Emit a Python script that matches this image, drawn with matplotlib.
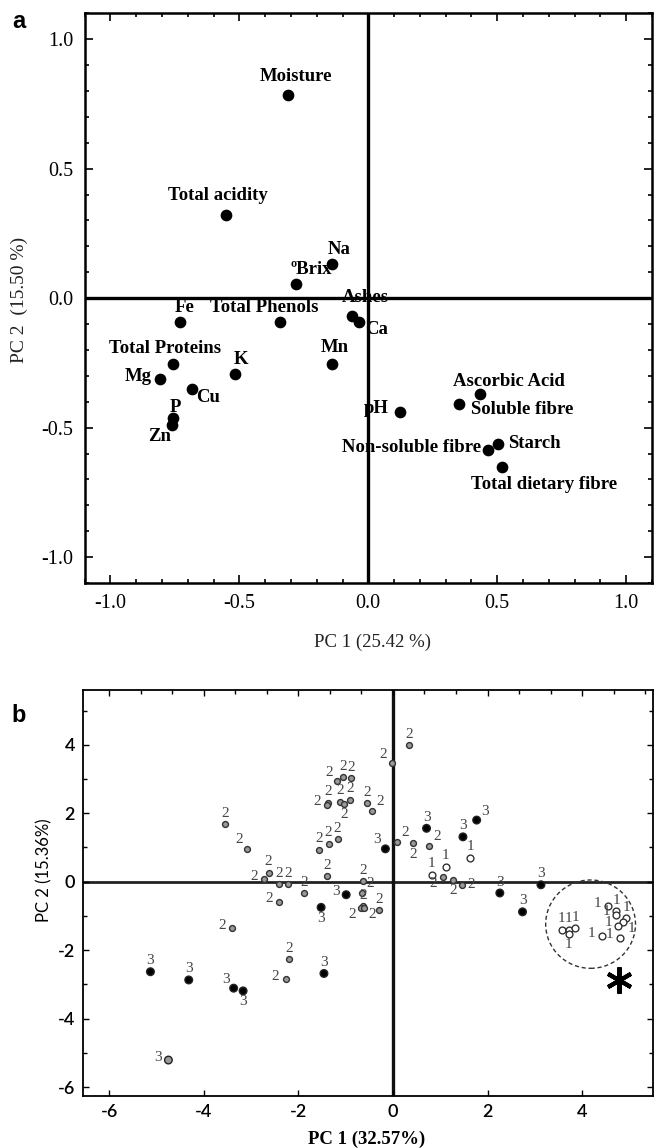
import matplotlib
matplotlib.use('Agg')
import matplotlib.pyplot as plt
from matplotlib.patches import Ellipse
from matplotlib.ticker import MultipleLocator
import numpy as np

plt.rcParams['axes.unicode_minus'] = False

# ---- panel a : loadings ----
var_names = ['Moisture', 'Total acidity', 'Na', 'ºBrix', 'Fe', 'Total Phenols', 'Ashes', 'Ca',
             'Mn', 'Total Proteins', 'K', 'Mg', 'Cu', 'P', 'Zn', 'pH', 'Ascorbic Acid',
             'Soluble fibre', 'Starch', 'Non-soluble fibre', 'Total dietary fibre']
pc1_load = [-0.311, -0.55, -0.142, -0.279, -0.730, -0.342, -0.065, -0.037,
            -0.142, -0.758, -0.518, -0.806, -0.682, -0.758, -0.763, 0.124, 0.432,
            0.352, 0.501, 0.464, 0.519]
pc2_load = [0.783, 0.321, 0.132, 0.055, -0.091, -0.091, -0.068, -0.091,
            -0.253, -0.253, -0.292, -0.312, -0.351, -0.462, -0.488, -0.438, -0.369,
            -0.407, -0.565, -0.585, -0.651]
# label offsets in pixels (dx, dy) and alignment
lab_off = [(8, 19), (-9, 20), (7, 14), (15, 14), (5, 14), (-16, 14), (14, 18), (18, -8),
           (3, 16), (-8, 15), (6, 14), (-22, 2), (16, -8), (3, 10), (-12, -12), (-24, 3), (29, 12),
           (63, -6), (37, 1), (-7, 2), (42, -18)]
lab_ha = ['center'] * 19 + ['right', 'center']

# ---- panel b : scores, grouped ----
g1_x = [0.82, 1.12, 1.63, 3.57, 3.72, 3.86, 3.72, 4.54, 4.72, 4.72, 4.93, 4.86, 4.77, 4.42, 4.80]
g1_y = [0.20, 0.44, 0.70, -1.40, -1.40, -1.36, -1.52, -0.71, -0.86, -0.97, -1.07, -1.17, -1.29, -1.59, -1.63]
g1_pos = ['a', 'a', 'a', 'a', 'a', 'a', 'b', 'l', 'a', 'l', 'a', 'br', 'l', 'l', 'l']

g2_x = [-3.55, -3.08, -2.73, -2.63, -2.41, -2.21, -1.88, -2.41, -1.39, -1.57, -1.36, -1.17,
        -1.19, -1.05, -0.88, -1.37, -1.40, -1.11, -1.04, -0.90, -0.55, -0.44, -0.03, 0.34,
        0.08, 0.42, 0.76, 1.05, 1.27, 1.45, -0.64, -0.65, -0.64, -0.67, -0.62, -0.30,
        -2.20, -2.27, -3.40]
g2_y = [1.68, 0.96, 0.07, 0.26, -0.08, -0.08, -0.33, -0.58, 0.16, 0.94, 1.11, 1.24,
        2.93, 3.05, 3.02, 2.30, 2.25, 2.34, 2.27, 2.39, 2.29, 2.07, 3.46, 3.99,
        1.17, 1.12, 1.05, 0.15, 0.05, -0.10, 0.02, -0.32, -0.72, -0.76, -0.76, -0.83,
        -2.27, -2.85, -1.36]
g2_pos = ['a', 'ul', 'l', 'a', 'a', 'a', 'a', 'l', 'a', 'a', 'a', 'a',
          'ul', 'a', 'a', 'a', 'l', 'a', 'b', 'a', 'a', 'ur', 'ul', 'a',
          'ur', 'b', 'ur', 'bl', 'b', 'r', 'a', 'ur', 'a', 'bl', 'br', 'a',
          'a', 'l', 'l']

g3_x = [-5.13, -4.32, -3.37, -3.17, -1.46, -1.52, -0.99, -0.16, 0.71, 1.48, 1.77, 2.26, 2.74, 3.13, -4.75]
g3_y = [-2.63, -2.87, -3.11, -3.19, -2.68, -0.75, -0.38, 0.96, 1.56, 1.31, 1.80, -0.33, -0.88, -0.09, -5.21]
g3_pos = ['a', 'a', 'ul', 'b', 'a', 'b', 'l', 'ul', 'a', 'a', 'ur', 'a', 'a', 'a', 'l']
g3_fill = ['k'] * 14 + ['#999999']

circle_center = (4.18, -1.24)
circle_w, circle_h = 1.9, 2.58
star_xy = (4.79, -2.87)

offs = {'a': (0, 11), 'b': (0, -11), 'l': (-10, 3), 'r': (10, 1), 'ul': (-8, 9),
        'ur': (8, 9), 'bl': (-9, -7), 'br': (9, -7)}

serif = 'Liberation Serif'

fig = plt.figure(figsize=(6.54, 11.48), dpi=100)
W, H = 654, 1148

# ================= panel a =================
ax = fig.add_axes([84.6 / W, 1 - 583 / H, (652 - 84.6) / W, (583 - 13.3) / H])
ax.set_xlim(-1.1, 1.1)
ax.set_ylim(-1.1, 1.1)
ax.axhline(0, color='k', lw=2.4, zorder=1)
ax.axvline(0, color='k', lw=2.4, zorder=1)
ax.scatter(pc1_load, pc2_load, s=55, color='k', zorder=3)
for i, name in enumerate(var_names):
    ax.annotate(name, (pc1_load[i], pc2_load[i]), xytext=lab_off[i], textcoords='offset pixels',
                ha=lab_ha[i], va='center', fontsize=13.5, fontweight='bold', family=serif, zorder=4)
ax.xaxis.set_minor_locator(MultipleLocator(0.1))
ax.yaxis.set_minor_locator(MultipleLocator(0.1))
ax.tick_params(which='both', direction='in', top=True, right=True, width=1.2)
ax.tick_params(which='major', length=6, pad=8)
ax.tick_params(which='minor', length=3)
ax.set_xticks([-1.0, -0.5, 0.0, 0.5, 1.0])
ax.set_xticklabels(['-1.0', '-0.5', '0.0', '0.5', '1.0'], family=serif, fontsize=14.5)
ax.set_yticks([-1.0, -0.5, 0.0, 0.5, 1.0])
ax.set_yticklabels(['-1.0', '-0.5', '0.0', '0.5', '1.0'], family=serif, fontsize=14.5)
for sp in ax.spines.values():
    sp.set_linewidth(1.8)
fig.text(19.5 / W, 1 - 300 / H, 'PC 2  (15.50 %)', rotation=90, ha='center', va='center',
         family=serif, fontsize=14, color='#222222')
fig.text(373 / W, 1 - 642 / H, 'PC 1 (25.42 %)', ha='center', va='center',
         family=serif, fontsize=13.5, color='#222222')
fig.text(18.5 / W, 1 - 22 / H, 'a', ha='center', va='center', fontsize=17, fontweight='bold',
         family='Liberation Sans')

# ================= panel b =================
bx = fig.add_axes([83.3 / W, 1 - 1096 / H, (653 - 83.3) / W, (1096 - 690) / H])
bx.set_xlim(-6.55, 5.5)
bx.set_ylim(-6.26, 5.6)
bx.axhline(0, color='#222222', lw=2.0, zorder=1)
bx.axvline(0, color='#111111', lw=2.4, zorder=1)

lab_kw = dict(textcoords='offset pixels', ha='center', va='center', fontsize=11,
              family=serif, color='#444444', zorder=4)
bx.scatter(g2_x, g2_y, s=18, facecolor='#9a9a9a', edgecolor='#333333', linewidth=1.0, zorder=3)
for x, y, p in zip(g2_x, g2_y, g2_pos):
    bx.annotate('2', (x, y), xytext=offs[p], **lab_kw)
bx.scatter(g1_x, g1_y, s=24, facecolor='white', edgecolor='#333333', linewidth=1.0, zorder=3)
for x, y, p in zip(g1_x, g1_y, g1_pos):
    bx.annotate('1', (x, y), xytext=offs[p], **lab_kw)
bx.scatter(g3_x, g3_y, s=30, facecolor=g3_fill, edgecolor='#222222', linewidth=1.0, zorder=3)
for x, y, p in zip(g3_x, g3_y, g3_pos):
    bx.annotate('3', (x, y), xytext=offs[p], **lab_kw)

bx.add_patch(Ellipse(circle_center, circle_w, circle_h, fill=False, ls=(0, (3, 2)),
                     lw=1.0, edgecolor='#333333', zorder=2))
bx.plot(*star_xy, marker=(6, 2, 0), markersize=19, mew=3.0, color='k', zorder=4)

bx.xaxis.set_major_locator(MultipleLocator(2))
bx.yaxis.set_major_locator(MultipleLocator(2))
bx.xaxis.set_minor_locator(MultipleLocator(2 / 3))
bx.yaxis.set_minor_locator(MultipleLocator(1))
bx.tick_params(which='both', direction='in', top=True, right=True, width=1.0)
bx.tick_params(which='major', length=4, pad=6)
bx.tick_params(which='minor', length=3, bottom=False)
for lab in bx.get_xticklabels() + bx.get_yticklabels():
    lab.set_family('Lato')
    lab.set_fontsize(13)
    lab.set_fontweight('semibold')
for sp in bx.spines.values():
    sp.set_linewidth(1.3)
fig.text(44 / W, 1 - 870 / H, 'PC 2 (15.36%)', rotation=90, ha='center', va='center',
         family='Lato', fontsize=12)
fig.text(367 / W, 1 - 1139 / H, 'PC 1 (32.57%)', ha='center', va='center',
         family=serif, fontsize=13.5, fontweight='bold')
fig.text(19 / W, 1 - 716 / H, 'b', ha='center', va='center', fontsize=17, fontweight='bold',
         family='Liberation Sans')

fig.savefig('out.png', dpi=100)
